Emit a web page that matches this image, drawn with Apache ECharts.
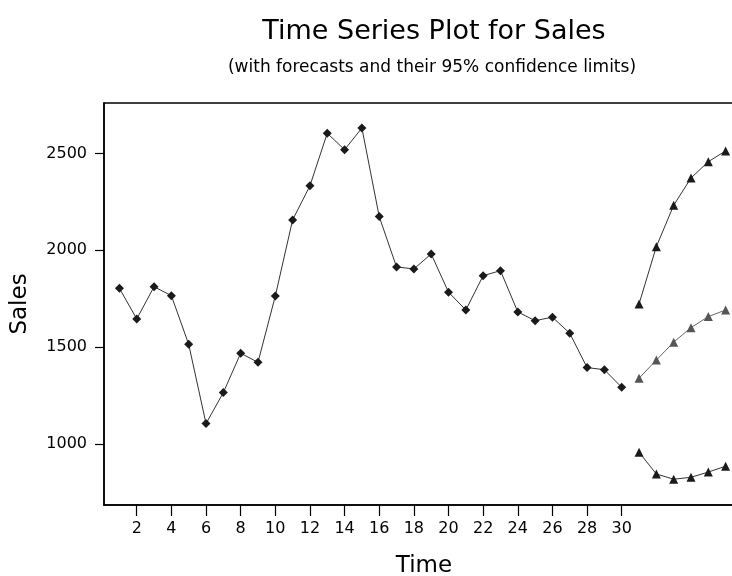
<!DOCTYPE html>
<html><head><meta charset="utf-8">
<script src="https://cdn.jsdelivr.net/npm/echarts@6/dist/echarts.min.js"></script>
<style>html,body{margin:0;padding:0;background:#fff}#c{width:732px;height:576px}</style>
</head><body><div id="c"></div>
<script>
const time = [1,2,3,4,5,6,7,8,9,10,11,12,13,14,15,16,17,18,19,20,21,22,23,24,25,26,27,28,29,30];
const sales = [1804,1646,1812,1766,1515,1106,1266,1469,1422,1764,2157,2333,2604,2519,2631,2174,1914,1904,1981,1784,1692,1869,1895,1682,1637,1655,1572,1395,1384,1293];
const forecastTime = [31,32,33,34,35,36];
const forecast = [1340,1434,1526,1601,1658,1692];
const upper = [1723,2019,2232,2373,2457,2513];
const lower = [958,846,819,829,856,886];
const xTicks = [2,4,6,8,10,12,14,16,18,20,22,24,26,28,30];
const yTicks = [1000,1500,2000,2500];

const pair = (xs, ys) => xs.map((x, i) => [x, ys[i]]);
const font = 'DejaVu Sans, sans-serif';
const chart = echarts.init(document.getElementById('c'), null, {renderer: 'canvas'});
chart.setOption({
  animation: false,
  backgroundColor: '#fff',
  title: [
    {text: 'Time Series Plot for Sales', left: 429, top: 13, textAlign: 'center',
     textStyle: {fontFamily: font, fontSize: 27, fontWeight: 'normal', color: '#000'}},
    {text: '(with forecasts and their 95% confidence limits)', left: 427, top: 54, textAlign: 'center',
     textStyle: {fontFamily: font, fontSize: 17, fontWeight: 'normal', color: '#000'}}
  ],
  grid: {left: 104, top: 103, width: 640, height: 402, outerBoundsMode: 'none',
         show: true, borderColor: '#000', borderWidth: 1.5, backgroundColor: 'transparent'},
  xAxis: {
    type: 'value', min: 0.11, max: 37.06,
    name: 'Time', nameLocation: 'middle', nameGap: 50,
    nameTextStyle: {fontFamily: font, fontSize: 23, color: '#000'},
    axisLine: {show: true, onZero: false, lineStyle: {color: '#000', width: 1.5}},
    axisTick: {show: true, length: 11, lineStyle: {color: '#000', width: 1.2}, customValues: xTicks},
    axisLabel: {fontFamily: font, fontSize: 16, color: '#000', margin: 16, customValues: xTicks},
    splitLine: {show: false}
  },
  yAxis: {
    type: 'value', min: 686, max: 2760,
    name: 'Sales', nameLocation: 'middle', nameGap: 72,
    nameTextStyle: {fontFamily: font, fontSize: 23, color: '#000'},
    axisLine: {show: true, onZero: false, lineStyle: {color: '#000', width: 1.5}},
    axisTick: {show: true, length: 9, lineStyle: {color: '#000', width: 1.2}, customValues: yTicks},
    axisLabel: {fontFamily: font, fontSize: 16, color: '#000', margin: 17, customValues: yTicks,
                formatter: v => String(v)},
    splitLine: {show: false}
  },
  series: [
    {type: 'line', data: pair(time, sales), symbol: 'diamond', symbolSize: 9,
     itemStyle: {color: '#1a1a1a'}, lineStyle: {color: '#333', width: 1}},
    {type: 'line', data: pair(forecastTime, forecast), symbol: 'triangle', symbolSize: 9,
     itemStyle: {color: '#555'}, lineStyle: {color: '#666', width: 1}},
    {type: 'line', data: pair(forecastTime, upper), symbol: 'triangle', symbolSize: 9,
     itemStyle: {color: '#1a1a1a'}, lineStyle: {color: '#333', width: 1}},
    {type: 'line', data: pair(forecastTime, lower), symbol: 'triangle', symbolSize: 9,
     itemStyle: {color: '#1a1a1a'}, lineStyle: {color: '#333', width: 1}}
  ]
});
</script></body></html>
